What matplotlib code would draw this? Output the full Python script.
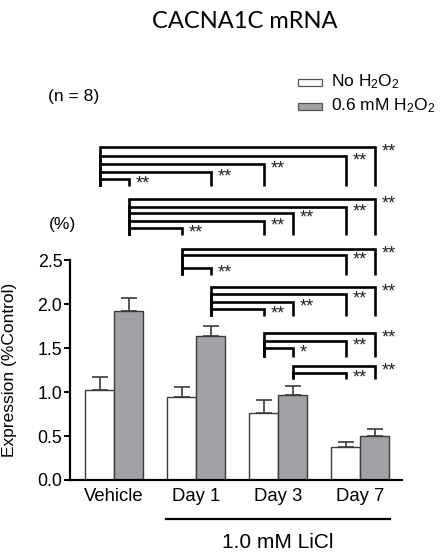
import matplotlib
matplotlib.use("Agg")
import matplotlib.pyplot as plt
import matplotlib.transforms as mtransforms
from matplotlib.patches import Rectangle
import numpy as np

# ---------------- data ----------------
categories = ["Vehicle", "Day 1", "Day 3", "Day 7"]
no_h2o2 = [1.02, 0.94, 0.76, 0.38]
no_h2o2_err = [0.15, 0.12, 0.15, 0.055]
h2o2 = [1.92, 1.64, 0.97, 0.50]
h2o2_err = [0.15, 0.11, 0.10, 0.08]
series_labels = ["No H$_2$O$_2$", "0.6 mM H$_2$O$_2$"]
yticks = [0.0, 0.5, 1.0, 1.5, 2.0, 2.5]

# significance brackets: (left bar, right bar, height, label)
# bar index: 0 Veh-No, 1 Veh-H2O2, 2 D1-No, 3 D1-H2O2, 4 D3-No, 5 D3-H2O2, 6 D7-No, 7 D7-H2O2
bracket_groups = [
    (0, 3.34, [(7, 3.79, "**"), (6, 3.685, "**"), (4, 3.59, "**"), (3, 3.50, "**"), (1, 3.42, "**")]),
    (1, 2.784, [(7, 3.193, "**"), (6, 3.105, "**"), (5, 3.034, "**"), (4, 2.947, "**"), (2, 2.86, "**")]),
    (2, 2.33, [(7, 2.625, "**"), (6, 2.557, "**"), (3, 2.406, "**")]),
    (3, 1.864, [(7, 2.19, "**"), (6, 2.114, "**"), (5, 2.026, "**"), (4, 1.94, "**")]),
    (4, 1.40, [(7, 1.667, "**"), (6, 1.583, "**"), (5, 1.497, "*")]),
    (5, 1.144, [(7, 1.295, "**"), (6, 1.2125, "**")]),
]

FONT = "Liberation Sans"
plt.rcParams["font.family"] = [FONT, "DejaVu Sans"]
plt.rcParams["mathtext.default"] = "regular"
plt.rcParams["mathtext.fontset"] = "custom"
plt.rcParams["mathtext.rm"] = FONT

W, H = 440, 553
fig = plt.figure(figsize=(W / 100, H / 100), dpi=100)

ax_left, ax_right, ax_bottom_px, ax_top_px = 70, 402, 480, 140
ax = fig.add_axes([ax_left / W, 1 - ax_bottom_px / H,
                   (ax_right - ax_left) / W, (ax_bottom_px - ax_top_px) / H])

x = np.arange(len(categories))
bw = 0.354
xw = x - bw / 2
xg = x + bw / 2
edge = "#3a3a3a"
ax.bar(xw, no_h2o2, width=bw, color="white", edgecolor=edge, linewidth=1.0, zorder=2)
ax.bar(xg, h2o2, width=bw, color="#a2a2a6", edgecolor=edge, linewidth=1.0, zorder=2)
ax.errorbar(xw, no_h2o2, yerr=[np.zeros(4), no_h2o2_err], fmt="none",
            ecolor=edge, elinewidth=1.2, capsize=6, capthick=1.2, zorder=1)
ax.errorbar(xg, h2o2, yerr=[np.zeros(4), h2o2_err], fmt="none",
            ecolor=edge, elinewidth=1.2, capsize=6, capthick=1.2, zorder=1)

bar_centers = []
for i in range(len(categories)):
    bar_centers += [xw[i], xg[i]]

ax.set_xlim(-0.537, 3.512)
ax.set_ylim(0, 3.864)

# brackets
px_per_unit = 88.0
for left, bottom, items in bracket_groups:
    xl = bar_centers[left]
    for right, h, lab in items:
        xr = bar_centers[right]
        ax.plot([xl, xl, xr, xr], [bottom, h, h, bottom], color="black",
                lw=1.9, solid_joinstyle="miter", solid_capstyle="butt",
                clip_on=False, zorder=3)
        ax.text(xr + 7 / 82, h - 9.5 / px_per_unit, lab, fontsize=13,
                ha="left", va="baseline", clip_on=False, color="#222222")

# axes styling
for s in ["top", "right"]:
    ax.spines[s].set_visible(False)
ax.spines["left"].set_bounds(0, 2.5)
ax.spines["left"].set_linewidth(1.6)
ax.spines["bottom"].set_linewidth(1.6)
ax.set_yticks(yticks)
ax.set_yticklabels([f"{v:.1f}" for v in yticks])
ax.tick_params(axis="y", length=4, width=1.4, labelsize=12.8, pad=1.5)
ax.set_xticks(x)
ax.set_xticklabels(categories)
ax.tick_params(axis="x", length=0, labelsize=13.3, pad=6)
ax.set_ylabel("Expression (%Control)", fontsize=12.5, labelpad=4)
ax.yaxis.set_label_coords(-(70 - 17) / (ax_right - ax_left), 0.5 * 2.5 / 3.864)

# LiCl line + label
trans = mtransforms.blended_transform_factory(ax.transData, ax.transAxes)
ax.plot([0.634, 3.366], [-(519 - 480) / 340] * 2, color="black", lw=1.6,
        transform=trans, clip_on=False)
ax.text(2.0, -(543 - 480) / 340, "1.0 mM LiCl", transform=trans, ha="center",
        va="center", fontsize=15)

# title and annotations
fig.text(244.5 / W, 1 - 22 / H, "CACNA1C mRNA", ha="center", va="center",
         fontsize=17, family=["Lato", "DejaVu Sans"])
fig.text(48 / W, 1 - 97 / H, "(n = 8)", ha="left", va="center", fontsize=12.6)
fig.text(49 / W, 1 - 225 / H, "(%)", ha="left", va="center", fontsize=12.6)

# legend
leg_colors = ["white", "#a2a2a6"]
for i, (lab, col) in enumerate(zip(series_labels, leg_colors)):
    yc = 82 + 24 * i
    fig.patches.append(Rectangle((298 / W, 1 - (yc + 3.5) / H), 24 / W, 7 / H,
                                 transform=fig.transFigure, facecolor=col,
                                 edgecolor="#555555", linewidth=0.9))
    fig.text(331 / W, 1 - yc / H, lab, ha="left", va="center", fontsize=12.5)

fig.savefig("out.png", dpi=100)
